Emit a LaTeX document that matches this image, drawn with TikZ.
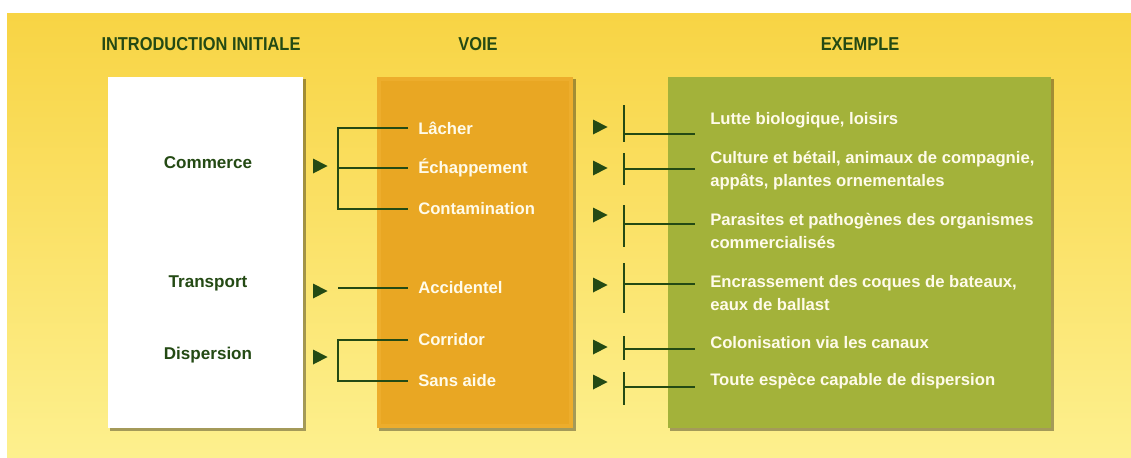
\documentclass[tikz,border=0pt]{standalone}
\usepackage{fontspec}
\setmainfont{Liberation Sans}
\newfontfamily\headfont[FakeStretch=0.88]{Liberation Sans}
\usetikzlibrary{positioning}
\definecolor{bgtop}{HTML}{F8D444}
\definecolor{bgbot}{HTML}{FDF08E}
\definecolor{dkgreen}{HTML}{244A14}
\definecolor{voieout}{HTML}{EDAD2C}
\definecolor{voiein}{HTML}{E9A723}
\definecolor{exgreen}{HTML}{A3B23A}
\definecolor{txtwhite}{HTML}{FFFBEA}
\tikzset{
  link/.style={draw=dkgreen, line width=1.1pt},
  head/.style={text=dkgreen, font=\headfont\fontsize{14}{16}\selectfont\bfseries},
  origine/.style={text=dkgreen, font=\fontsize{12.8}{16}\selectfont\bfseries},
  voie/.style={anchor=west, text=txtwhite, inner xsep=7.5pt, font=\fontsize{12.5}{15}\selectfont\bfseries},
  exemple/.style={anchor=west, text=txtwhite, align=left, inner xsep=11.25pt, font=\fontsize{12.5}{17.25}\selectfont\bfseries},
  shadow/.style={fill=black, opacity=0.35},
  tri/.pic={\fill[dkgreen] (-7,-7.5) -- (7.5,0) -- (-7,7.5) -- cycle;}
}
\begin{document}
\begin{tikzpicture}[x=0.75pt,y=-0.75pt]
	\useasboundingbox (0,0) rectangle (1131,457);
	\shade[top color=bgtop, bottom color=bgbot] (7,13) rectangle (1131,457);
	% boxes
	\fill[shadow] (110,79) rectangle (306,431);
	\fill[white] (108,77) rectangle (303,428);
	\fill[shadow] (379,79) rectangle (576,431);
	\fill[voieout] (377,77) rectangle (573,428);
	\fill[voiein] (381,81) rectangle (569,424);
	\fill[shadow] (670,79) rectangle (1054,431);
	\fill[exgreen] (668,77) rectangle (1051,428);
	% headers
	\node[head] (hintro) at (201,44) {INTRODUCTION INITIALE};
	\node[head] (hvoie) at (478,44) {VOIE};
	\node[head] (hex) at (860,44) {EXEMPLE};
	% introduction initiale
	\node[origine] (commerce) at (208,163) {Commerce};
	\node[origine] (transport) at (208,283) {Transport};
	\node[origine] (dispersion) at (208,355) {Dispersion};
	% voies
	\node[voie] (lacher) at (408,128) {Lâcher};
	\node[voie] (echap) at (408,168) {Échappement};
	\node[voie] (contam) at (408,209) {Contamination};
	\node[voie] (accid) at (408,288) {Accidentel};
	\node[voie] (corridor) at (408,340) {Corridor};
	\node[voie] (sansaide) at (408,381) {Sans aide};
	\coordinate (bcom) at (338,168);
	\coordinate (btra) at (338,288);
	\coordinate (bdis) at (338,360);
	\draw[link] (lacher.west) -| (bcom) |- (contam.west);
	\draw[link] (bcom) -- (echap.west);
	\draw[link] (btra) -- (accid.west);
	\draw[link] (corridor.west) -| (bdis) |- (sansaide.west);
	\pic at (320,166) {tri};
	\pic at (320,291) {tri};
	\pic at (320,357) {tri};
	% exemples
	\foreach \n/\yt/\ya/\yb/\yl/\ym/\txt in {
		1/127/105/142/134/120/{Lutte biologique, loisirs},
		2/168/153/185/169/170.5/{Culture et bétail, animaux de compagnie,\\appâts, plantes ornementales},
		3/215/205/247/224/230.5/{Parasites et pathogènes des organismes\\commercialisés},
		4/285/263/313/284/293.5/{Encrassement des coques de bateaux,\\eaux de ballast},
		5/347/336/360/349/343/{Colonisation via les canaux},
		6/382/372/405/387/381/{Toute espèce capable de dispersion}} {
		\node[exemple] (ex\n) at (695,\ym) {\txt};
		\coordinate (bar\n) at (624,\yl);
		\draw[link] (624,\ya) -- (624,\yb);
		\draw[link] (bar\n) -- (bar\n -| ex\n.west);
		\pic at (600,\yt) {tri};
	}
\end{tikzpicture}
\end{document}
